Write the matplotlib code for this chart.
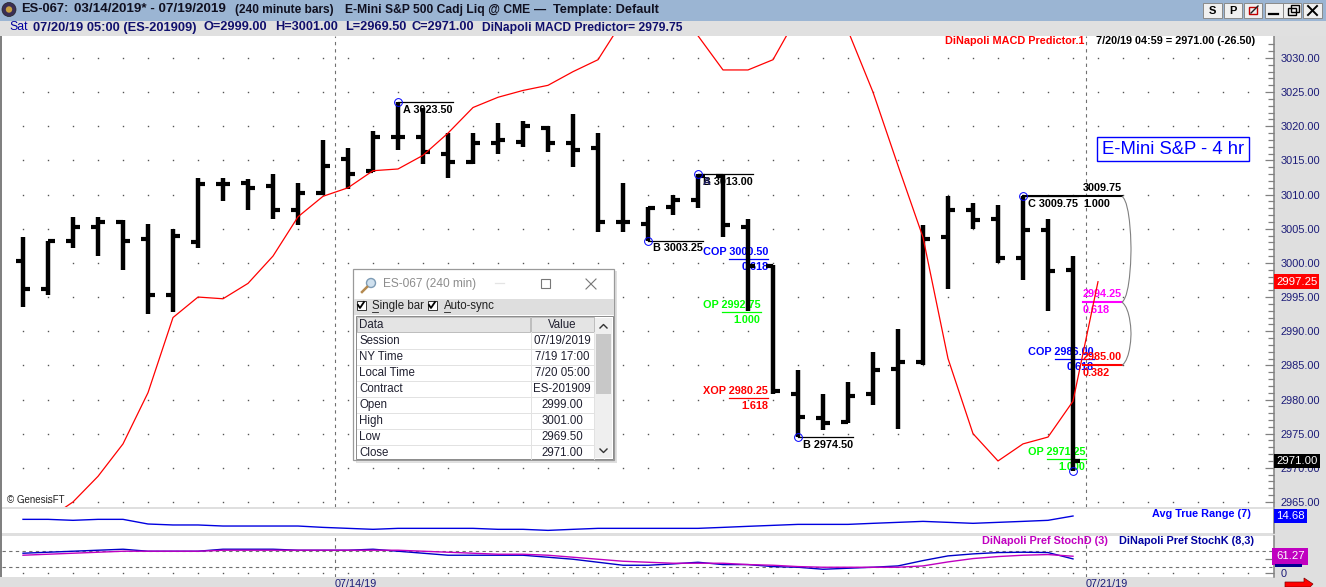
import numpy as np
import matplotlib.pyplot as plt
from matplotlib.patches import Rectangle, PathPatch, Polygon
from matplotlib.path import Path

plt.rcParams['font.family'] = ['Liberation Sans', 'DejaVu Sans']

W, H = 1326, 587
BAR_PX = 25.0     # pixels between bars
PRICE_PX = 6.83   # pixels per index point
NAVY = '#1c1c78'

opens = [3000.25, 2996.25, 3003.25, 3005.25, 3006, 3003.5, 2995.25, 3003, 3011.5, 3011.75, 3011.25,
         3007.75, 3010.25, 3015.25, 3013.5, 3018.5, 3018.5, 3016, 3014.75, 3017.5, 3017.75, 3019.75,
         3017.5, 3016.75, 3006, 3005.75, 3008.25, 3009.25, 3012.75, 3005.25, 2999.5, 2980.75, 2977.25,
         2976.75, 2980.75, 2984.5, 2985.5, 3003.75, 3007.75, 3006.5, 3000.75, 3004.75, 2999]
highs = [3003.75, 3003.25, 3006.75, 3006.75, 3006.25, 3005.75, 3005, 3012.5, 3012.5, 3012.25, 3013,
         3011.75, 3018, 3016.75, 3019.25, 3023.5, 3022.75, 3019, 3019, 3020.5, 3020.75, 3020,
         3021.75, 3019, 3011.75, 3008.25, 3010, 3013, 3013, 3006.5, 2999.75, 2984.25, 2980.75,
         2982.5, 2987, 2990.25, 3005.5, 3009.75, 3008.75, 3008.5, 3009.75, 3006.5, 3001]
lows = [2993.5, 2995.25, 3002.25, 3001, 2999, 2992.5, 2992.75, 3002.25, 3009, 3007.75, 3006.5,
        3005.5, 3010, 3010.75, 3013.25, 3016.5, 3014.5, 3012.5, 3014.5, 3016, 3017, 3016.25,
        3014, 3004.5, 3004.5, 3003.25, 3007, 3008, 3003.75, 2993, 2980.75, 2974.5, 2975.5,
        2976.5, 2979.25, 2975.75, 2985, 2996.25, 3005, 3000, 2997.5, 2993, 2969.5]
closes = [2996.25, 3003.25, 3005.25, 3006, 3003.25, 2995.25, 3004, 3011.5, 3011.5, 3011, 3007.75,
          3010.25, 3014.25, 3013, 3018.5, 3018.5, 3016.25, 3014.75, 3017.5, 3018, 3020, 3017.5,
          3016.5, 3006, 3006, 3008, 3009.25, 3012.75, 3005.5, 2999.5, 2981.25, 2977.5, 2976.5,
          2980.5, 2984.25, 2985.5, 3003.5, 3007.75, 3006.25, 3000.75, 3004.75, 2998.75, 2971]
# predictor runs one bar past the last price bar and off the top of the pane
predictor = [np.nan, 2962.5, 2965, 2968.75, 2973.5, 2981, 2992, 2995, 2994.75, 2997, 3001, 3006.75,
             3009.75, 3011, 3013.5, 3013.75, 3015.75, 3019, 3022.75, 3024.25, 3025.25, 3026, 3028,
             3029.75, 3035.5, 3040, 3038, 3033.25, 3028.25, 3028.25, 3029.75, 3036.25, 3040, 3034,
             3025, 3014.25, 3003.75, 2986, 2975, 2971, 2973.5, 2974.5, 2979.75, 2997.25]
atr = [12.45, 12.45, 11.8, 12.45, 12.45, 9.35, 8.7, 8.7, 8, 8, 8, 8, 7.1, 6.45, 5.8, 6.45, 6.45, 6.45,
       6.45, 5.8, 5.8, 5.1, 5.8, 6.45, 6.45, 6.45, 6.45, 6.45, 7.1, 7.8, 8.45, 9.1, 9.1, 9.1, 9.8,
       10.45, 11.1, 10.45, 9.8, 10.45, 11.1, 11.8, 14.68]
stoch_k = [72.5, 76.25, 80, 83.75, 87.5, 80, 80, 80, 87.5, 87.5, 87.5, 83.75, 83.75, 83.75, 87.5, 80,
           72.5, 65, 65, 65, 65, 57.5, 50, 38.75, 27.5, 27.5, 32.5, 38.75, 30, 30, 22.5, 20, 12.5,
           16.25, 20, 25, 45, 62.5, 70, 75, 76.25, 75, 51.25]
stoch_d = [65, 68.75, 72.5, 76.25, 80, 80, 80, 80, 83.75, 83.75, 83.75, 83.75, 83.75, 83.75, 83.75,
           83.75, 80, 76.25, 72.5, 68.75, 68.75, 65, 57.5, 50, 42.5, 38.75, 35, 35, 35, 30, 27.5,
           22.5, 20, 20, 20, 20, 25, 40, 52.5, 60, 65, 67.5, 61.27]

price_ticks = [2965, 2970, 2975, 2980, 2985, 2990, 2995, 3000, 3005, 3010, 3015, 3020, 3025, 3030]
week_bars = [12.48, 42.52]
week_labels = ['07/14/19', '07/21/19']

pivot_bars = [15, 27, 25, 31, 40]
pivot_prices = [3023.5, 3013, 3003.25, 2974.5, 3009.75]
pivot_names = ['A', 'B', 'B', 'B', 'C']

fib_names = ['COP', 'OP', 'XOP', 'COP', 'OP']
fib_bars = [29, 29, 29, 42, 42]
fib_prices = [3000.5, 2992.75, 2980.25, 2986, 2971.25]
fib_ratios = ['0.618', '1.000', '1.618', '0.618', '1.000']
fib_colors = ['#0000ff', '#00ff00', '#ff0000', '#0000ff', '#00ff00']

target_prices = [3009.75, 2994.25, 2985]
target_ratios = ['1.000', '0.618', '0.382']
target_colors = ['black', '#ff00ff', '#ff0000']

dialog_labels = ['Session', 'NY Time', 'Local Time', 'Contract', 'Open', 'High', 'Low', 'Close']
dialog_values = ['07/19/2019', '7/19 17:00', '7/20 05:00', 'ES-201909', '2999.00', '3001.00', '2969.50', '2971.00']

fig = plt.figure(figsize=(W / 100, H / 100), dpi=100, facecolor='#dfdfdf')


def pane(top, bottom):
    ax = fig.add_axes([2 / W, 1 - bottom / H, 1272 / W, (bottom - top) / H], facecolor='white')
    ax.set_xlim(-21 / BAR_PX, 1251 / BAR_PX)
    ax.xaxis.set_visible(False)
    for side in ['top', 'left', 'bottom']:
        ax.spines[side].set_visible(False)
    ax.spines['right'].set_color('#808080')
    ax.spines['right'].set_linewidth(1.1)
    ax.yaxis.tick_right()
    return ax


def tag(ax, value, text, bg, pad=0.2):
    # value box sitting just right of the price axis
    ax.text(1.0015, value, text, transform=ax.get_yaxis_transform(), ha='left', va='center', color='white',
            fontsize=8.2, clip_on=False, zorder=20,
            bbox=dict(boxstyle=f'square,pad={pad}', fc=bg, ec='none'))


bars = np.arange(len(opens))
grid_x = np.arange(0, 50)

# ---- price pane
ax = pane(36, 506.7)
ax.set_ylim(3030 - (506.7 - 58) / PRICE_PX, 3030 + 22 / PRICE_PX)
ax.set_yticks(price_ticks, [f'{p:.2f}' for p in price_ticks], color=NAVY, fontsize=7.9)
ax.set_yticks(np.arange(2965, 3033), minor=True)
ax.tick_params(axis='y', which='major', direction='in', length=6.5, width=0.9, color='#808080', pad=4.5)
ax.tick_params(axis='y', which='minor', direction='in', length=4, width=0.9, color='#808080')

gx, gy = np.meshgrid(grid_x, price_ticks)
ax.plot(gx.ravel(), gy.ravel(), ls='none', marker='s', ms=1.0, mew=0, color='#555555', zorder=1)
for b in week_bars:
    ax.axvline(b, color='#707070', lw=0.8, ls=(0, (3, 3.5)), zorder=1)

# labels go under the bars
for b, p, n in zip(pivot_bars, pivot_prices, pivot_names):
    ax.plot([b, b + 55 / BAR_PX], [p, p], color='black', lw=0.9, zorder=2)
    ax.text(b + 5 / BAR_PX, p - 7.5 / PRICE_PX, f'{n} {p:.2f}', fontsize=7.8, fontweight='bold', va='center', zorder=2)
ax.text(27 + 5 / BAR_PX, 3013 - 7.5 / PRICE_PX, 'A', fontsize=7.8, fontweight='bold', color='#202060', va='center', zorder=2)
ax.plot([40, 42 + 49 / BAR_PX], [3009.75, 3009.75], color='black', lw=1.5, zorder=2)

renderer = fig.canvas.get_renderer()
for n, b, p, r, c in zip(fib_names, fib_bars, fib_prices, fib_ratios, fib_colors):
    t = ax.text(b - 45 / BAR_PX, p + 7 / PRICE_PX, f'{n} {p:.2f}', color=c, fontsize=7.8, fontweight='bold',
                va='center', zorder=2)
    right = ax.transData.inverted().transform((t.get_window_extent(renderer).x1, 0))[0]
    ax.plot([right - 39 / BAR_PX, right], [p, p], color=c, lw=0.9, zorder=2)
    ax.text(right, p - 8 / PRICE_PX, r, color=c, fontsize=7.8, fontweight='bold', ha='right', va='center', zorder=2)

for p, r, c in zip(target_prices, target_ratios, target_colors):
    left = 42 + 10 / BAR_PX
    if c != 'black':
        ax.plot([left, left + 39 / BAR_PX], [p, p], color=c, lw=1.5, zorder=2)
    ax.text(left, p + 8 / PRICE_PX, f'{p:.2f}', color=c, fontsize=7.8, fontweight='bold', va='center', zorder=2)
    ax.text(left, p - 8 / PRICE_PX, r, color=c, fontsize=7.8, fontweight='bold', va='center', zorder=2)

# gray brackets between the targets
edge = 42 + 49 / BAR_PX
for p0, p1 in zip(target_prices[:-1], target_prices[1:]):
    bend = 9 / BAR_PX
    verts = [(edge, p0), (edge + bend, p0 - 1), (edge + bend, (p0 + p1) / 2), ((edge + bend), (p0 + p1) / 2),
             (edge + bend, (p0 + p1) / 2), (edge + bend, p1 + 1), (edge, p1)]
    codes = [Path.MOVETO, Path.CURVE4, Path.CURVE4, Path.CURVE4, Path.CURVE4, Path.CURVE4, Path.CURVE4]
    ax.add_patch(PathPatch(Path(verts, codes), fc='none', ec='#808080', lw=0.8, zorder=2))

# price bars
ax.vlines(bars, lows, highs, color='black', lw=3.2, zorder=3)
ax.hlines(opens, bars - 7 / BAR_PX, bars, color='black', lw=3.0, zorder=3)
ax.hlines(closes, bars, bars + 7 / BAR_PX, color='black', lw=3.0, zorder=3)

ax.plot(np.arange(len(predictor)), predictor, color='#ff0000', lw=0.9, zorder=4)

ax.plot(pivot_bars + [42], pivot_prices + [lows[-1]], ls='none', marker='o', ms=5.6, mfc='none', mec='#0000ff',
        mew=0.7, zorder=5)

ax.text(-16 / BAR_PX, 2965.3, '\u00a9 GenesisFT', fontsize=7.0, color='#222222', va='center')
tag(ax, 2997.25, '2997.25', '#ff0000')
tag(ax, 2971, '2971.00', 'black')

# ---- ATR pane
ax2 = pane(508.7, 533.3)
ax2.set_ylim(3.15, 19.55)
ax2.set_yticks([])
ax2.plot(bars, atr, color='#0000e0', lw=1.0)
tag(ax2, 14.68, '14.68', '#0000ff')

# ---- stochastics pane
ax3 = pane(536, 577)
ax3.set_ylim(-16.5, 137)
ax3.set_yticks([0], ['0'], color=NAVY, fontsize=7.9)
ax3.set_yticks([50], minor=True)
ax3.tick_params(axis='y', which='both', direction='in', length=6.5, width=0.9, color='#808080', pad=4.5)
for level in [20, 80]:
    ax3.axhline(level, color='#707070', lw=0.8, ls=(0, (3, 3)))
for b in week_bars:
    ax3.axvline(b, color='#707070', lw=0.8, ls=(0, (3, 3.5)))
ax3.plot(grid_x, np.zeros(len(grid_x)), ls='none', marker='s', ms=1.0, mew=0, color='#555555')
ax3.plot(bars, stoch_k, color='#0000c8', lw=1.0)
ax3.plot(bars, stoch_d, color='#c000c0', lw=1.0)
tag(ax3, 61.27, '61.27', '#c000c0', pad=0.32)

# ---- window chrome and floating dialog, in pixels
ui = fig.add_axes([0, 0, 1, 1], facecolor='none', zorder=10)
ui.set_xlim(0, W)
ui.set_ylim(H, 0)
ui.axis('off')


def box(x0, y0, x1, y1, **kw):
    ui.add_patch(Rectangle((x0, y0), x1 - x0, y1 - y0, **kw))


def label(x, y, s, **kw):
    kw.setdefault('va', 'center')
    ui.text(x, y, s, **kw)


box(0, 0, W, 21, fc='#9bb5d3', ec='none')
box(0, 21, W, 36, fc='#e0e0e0', ec='none')
box(0, 36, 2, 577, fc='#808080', ec='none')
box(1275, 564, 1302, 567, fc='#000090', ec='none')
ui.add_patch(plt.Circle((9, 9.5), 7, fc='#3a2f55', ec='#222222', lw=0.5))
ui.add_patch(plt.Circle((9, 9.5), 3.2, fc='#c8a040', ec='none'))

for x, s, size in [(21, 'ES-067:', 9.3), (74, '03/14/2019* - 07/19/2019', 9.7), (235, '(240 minute bars)', 8.6),
                   (345, 'E-Mini S&P 500 Cadj Liq @ CME', 8.7), (534, '\u2014', 8.7),
                   (553, 'Template: Default', 9.2)]:
    label(x, 9.5, s, fontsize=size, fontweight='bold', color='#101020')
label(9, 27.5, 'Sat', fontsize=8.8, color='#0000a0')
for x, s, size in [(33, '07/20/19 05:00 (ES-201909)', 9.3), (204, 'O=2999.00', 9.2), (275, 'H=3001.00', 9.2),
                   (345, 'L=2969.50', 9.2), (412, 'C=2971.00', 9.2),
                   (482, 'DiNapoli MACD Predictor= 2979.75', 8.7)]:
    label(x, 27.5, s, fontsize=size, fontweight='bold', color='#10106e')

for (x0, x1), s in zip([(1203, 1222), (1224, 1242), (1244, 1262), (1265, 1283), (1283, 1301), (1303, 1322)],
                       ['S', 'P', '', '', '', '']):
    box(x0, 3, x1, 18, fc='#f0f0f0', ec='#8a8a8a', lw=0.7)
    label((x0 + x1) / 2, 10.5, s, fontsize=8, fontweight='bold', ha='center', color='black')
box(1249, 7, 1257, 14, fc='none', ec='#c00000', lw=1.0)
ui.plot([1251, 1258], [13, 6], color='#202020', lw=1.0)
ui.plot([1269, 1278], [14, 14], color='black', lw=1.6)
box(1288, 8, 1296, 15, fc='#f0f0f0', ec='black', lw=1.0)
box(1291, 5, 1299, 12, fc='none', ec='black', lw=1.0)
ui.plot([1308, 1317], [6, 15], color='black', lw=1.4)
ui.plot([1308, 1317], [15, 6], color='black', lw=1.4)

label(945, 41, 'DiNapoli MACD Predictor.1', fontsize=7.8, fontweight='bold', color='#ff0000')
label(1096, 41, '7/20/19 04:59 = 2971.00 (-26.50)', fontsize=7.8, fontweight='bold', color='black')
box(1097, 137, 1249, 161, fc='white', ec='#0000ff', lw=1.0)
label(1173, 149, 'E-Mini S&P - 4 hr', fontsize=13.3, color='#0000ff', ha='center')
label(1152, 514, 'Avg True Range (7)', fontsize=7.8, fontweight='bold', color='#0000ff')
label(982, 541, 'DiNapoli Pref StochD (3)', fontsize=7.8, fontweight='bold', color='#c000c0')
label(1119, 541, 'DiNapoli Pref StochK (8,3)', fontsize=7.8, fontweight='bold', color='#0000a0')
for b, s in zip(week_bars, week_labels):
    label(23 + b * BAR_PX, 579, s, fontsize=7.8, color=NAVY, va='top')
ui.add_patch(Polygon([(1285, 587), (1285, 582), (1304, 582), (1304, 578), (1313, 584), (1310, 587)],
                     fc='#ff0000', ec='#800000', lw=0.5))

# dialog
box(356, 271, 617, 463, fc='#b8b8b8', ec='none', alpha=0.45)
box(353, 269, 614, 460, fc='white', ec='#9a9a9a', lw=0.9)
ui.add_patch(plt.Circle((371, 283), 4.5, fc='#cfe0ee', ec='#7d9bb5', lw=1.0))
ui.plot([367, 362], [287, 292], color='#b58a50', lw=1.8)
label(383, 284, 'ES-067 (240 min)', fontsize=8.6, color='#8c8c8c')
ui.plot([495, 504], [283, 283], color='#e4e4e4', lw=0.9)
box(541, 279, 550, 288, fc='none', ec='#777777', lw=0.8)
ui.plot([586, 596], [279, 289], color='#777777', lw=0.8)
ui.plot([586, 596], [289, 279], color='#777777', lw=0.8)
box(354, 299, 613.5, 315, fc='#dedede', ec='none')
for x in [361, 432]:
    box(x - 4.5, 300.5, x + 4.5, 309.5, fc='white', ec='#333333', lw=0.7)
    ui.plot([x - 3, x - 1, x + 3], [305, 308, 302], color='black', lw=1.3)
label(372, 306, 'Single bar', fontsize=8.3, color='#202020')
label(444, 306, 'Auto-sync', fontsize=8.3, color='#202020')
ui.plot([372, 378], [312, 312], color='#202020', lw=0.6)
ui.plot([444, 450], [312, 312], color='#202020', lw=0.6)
box(356, 316, 613, 459, fc='white', ec='#8a8a8a', lw=0.7)
box(357, 317, 530, 332, fc='#e4e4e4', ec='#a8a8a8', lw=0.5)
box(531, 317, 594, 332, fc='#e4e4e4', ec='#a8a8a8', lw=0.5)
label(359, 325, 'Data', fontsize=8.3, color='#202030')
label(562, 325, 'Value', fontsize=8.3, color='#202030', ha='center')
for i, (n, v) in enumerate(zip(dialog_labels, dialog_values)):
    y = 341 + 16 * i
    label(359, y, n, fontsize=8.3, color='#202030')
    label(562, y, v, fontsize=8.3, color='#202030', ha='center')
    ui.plot([357, 594], [y + 8, y + 8], color='#e2e2e2', lw=0.7)
ui.plot([530.5, 530.5], [332, 459], color='#e2e2e2', lw=0.7)
ui.plot([594, 594], [332, 459], color='#e2e2e2', lw=0.7)
box(595, 318, 612, 458, fc='#efefef', ec='none')
box(596, 334, 611, 394, fc='#c8c8c8', ec='none')
ui.plot([600, 603.5, 607], [328, 324.5, 328], color='#333333', lw=1.0)
ui.plot([600, 603.5, 607], [449, 452.5, 449], color='#333333', lw=1.0)

fig.savefig('out.png', dpi=100, facecolor=fig.get_facecolor())
